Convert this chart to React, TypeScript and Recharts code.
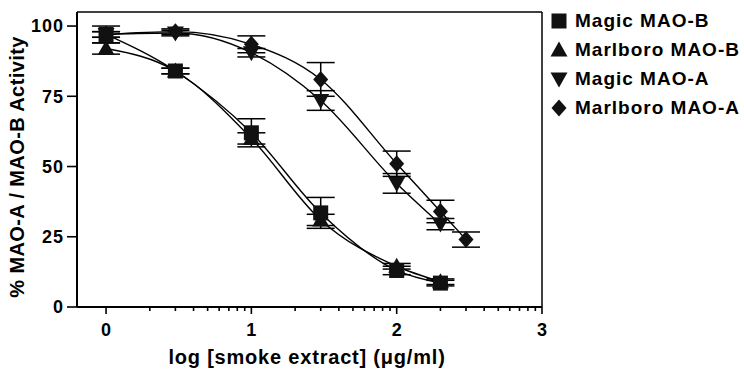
import React from "react";
import { ComposedChart, Line, XAxis, YAxis, ErrorBar, ReferenceLine, Legend } from "recharts";

// smoke extract concentrations (µg/ml), plotted as log10
const concentrations = [1, 3, 10, 30, 100, 200, 300];

// % activity (mean) and error (± SEM)
const magicMaoB = [97, 84, 62, 33.5, 13, 8.5];
const magicMaoBErr = [3, 1, 5, 5.5, 1.5, 1];
const marlboroMaoB = [92, 84, 60, 31, 14.5, 9];
const marlboroMaoBErr = [2, 1, 2, 2, 1, 1];
const magicMaoA = [97, 97.5, 90.5, 73.5, 44, 29.5];
const magicMaoAErr = [1, 1, 1.5, 3.5, 3.5, 2];
const marlboroMaoA = [97, 98, 93.5, 81, 51, 34, 24];
const marlboroMaoAErr = [1, 1, 3, 6, 4.5, 4, 2.7];

const yTicks = [0, 25, 50, 75, 100];
const xMajorTicks = [0, 1, 2, 3];
const minorMultipliers = [2, 3, 4, 5, 6, 7, 8, 9];
const xMinorTicks = [0, 1, 2].flatMap((d) => minorMultipliers.map((m) => d + Math.log10(m)));
const xTicks = [...xMajorTicks, ...xMinorTicks].sort((a, b) => a - b);

const FONT = "'Liberation Sans', Arial, Helvetica, sans-serif";

const toPoints = (values: number[], errs: number[]) =>
    values.map((y, i) => ({ x: Math.log10(concentrations[i]), y, err: errs[i] }));

// marker shapes
const Marker = ({ kind, cx, cy }: { kind: string; cx: number; cy: number }) => {
    const r = 7.5;
    if (kind === "square") {
        return <rect x={cx - r} y={cy - r} width={r * 2} height={r * 2} fill="#111" />;
    }
    if (kind === "up") {
        return <polygon points={`${cx},${cy - r - 1} ${cx - r - 1},${cy + r - 1} ${cx + r + 1},${cy + r - 1}`} fill="#111" />;
    }
    if (kind === "down") {
        return <polygon points={`${cx - r - 1},${cy - r + 1} ${cx + r + 1},${cy - r + 1} ${cx},${cy + r + 1}`} fill="#111" />;
    }
    return <polygon points={`${cx},${cy - r - 1} ${cx + r},${cy} ${cx},${cy + r + 1} ${cx - r},${cy}`} fill="#111" />;
};

const series = [
    { name: "Magic MAO-B", kind: "square", data: toPoints(magicMaoB, magicMaoBErr) },
    { name: "Marlboro MAO-B", kind: "up", data: toPoints(marlboroMaoB, marlboroMaoBErr) },
    { name: "Magic MAO-A", kind: "down", data: toPoints(magicMaoA, magicMaoAErr) },
    { name: "Marlboro MAO-A", kind: "diamond", data: toPoints(marlboroMaoA, marlboroMaoAErr) },
];

const XTick = (props: any) => {
    const { x, y, payload } = props;
    const major = xMajorTicks.includes(payload.value);
    return (
        <g>
            <line x1={x} x2={x} y1={y} y2={y + (major ? 7 : 4)} stroke="#000" strokeWidth={1.6} />
            {major && (
                <text x={x} y={y + 29} textAnchor="middle" fontFamily={FONT} fontWeight="bold" fontSize={18} fill="#000">
                    {payload.value}
                </text>
            )}
        </g>
    );
};

const renderLegend = () => (
    <div style={{ fontFamily: FONT, fontWeight: "bold", fontSize: 19, letterSpacing: 1, color: "#000" }}>
        {series.map((s) => (
            <div key={s.name} style={{ display: "flex", alignItems: "center", height: 29 }}>
                <svg width={20} height={20} style={{ marginRight: 6 }}>
                    <Marker kind={s.kind} cx={10} cy={10} />
                </svg>
                {s.name}
            </div>
        ))}
    </div>
);

const App = () => {
    return (
        <div style={{ position: "absolute", left: 0, top: 0, width: 744, height: 371, background: "#fff" }}>
            <ComposedChart width={744} height={371} margin={{ top: 12, right: 202, bottom: 0, left: 0 }}>
                <XAxis
                    type="number"
                    dataKey="x"
                    domain={[-0.2, 3]}
                    ticks={xTicks}
                    interval={0}
                    allowDataOverflow
                    height={64}
                    tickLine={false}
                    tickSize={0}
                    tickMargin={0}
                    tick={<XTick />}
                    axisLine={{ stroke: "#000", strokeWidth: 2 }}
                    label={() => (
                        <text x={307} y={364} textAnchor="middle" fontFamily={FONT} fontWeight="bold" fontSize={20} letterSpacing={0.8} fill="#000">
                            log [smoke extract] (μg/ml)
                        </text>
                    )}
                />
                <YAxis
                    type="number"
                    domain={[0, 105]}
                    ticks={yTicks}
                    width={77}
                    tickSize={10}
                    tickMargin={3}
                    tickLine={{ stroke: "#000", strokeWidth: 1.6 }}
                    axisLine={{ stroke: "#000", strokeWidth: 2 }}
                    tick={{ fontFamily: FONT, fontWeight: "bold", fontSize: 18, fill: "#000", letterSpacing: 1 }}
                    label={() => (
                        <text
                            transform="translate(24,167) rotate(-90)"
                            textAnchor="middle"
                            fontFamily={FONT}
                            fontWeight="bold"
                            fontSize={20}
                            letterSpacing={0.4}
                            fill="#000"
                        >
                            % MAO-A / MAO-B Activity
                        </text>
                    )}
                />
                <ReferenceLine y={105} stroke="#000" strokeWidth={1.5} />
                <ReferenceLine x={3} stroke="#000" strokeWidth={1.5} />
                {series.map((s) => (
                    <Line
                        key={s.name}
                        name={s.name}
                        data={s.data}
                        dataKey="y"
                        type="monotone"
                        stroke="#000"
                        strokeWidth={1.4}
                        isAnimationActive={false}
                        dot={(p: any) => <Marker key={`${s.name}-${p.index}`} kind={s.kind} cx={p.cx} cy={p.cy} />}
                        activeDot={false}
                    >
                        <ErrorBar dataKey="err" direction="y" width={14} stroke="#000" strokeWidth={1.5} />
                    </Line>
                ))}
                <Legend
                    layout="vertical"
                    align="center"
                    verticalAlign="middle"
                    wrapperStyle={{ left: 549, top: 6, width: 195 }}
                    content={renderLegend}
                />
            </ComposedChart>
        </div>
    );
};

export default App;
